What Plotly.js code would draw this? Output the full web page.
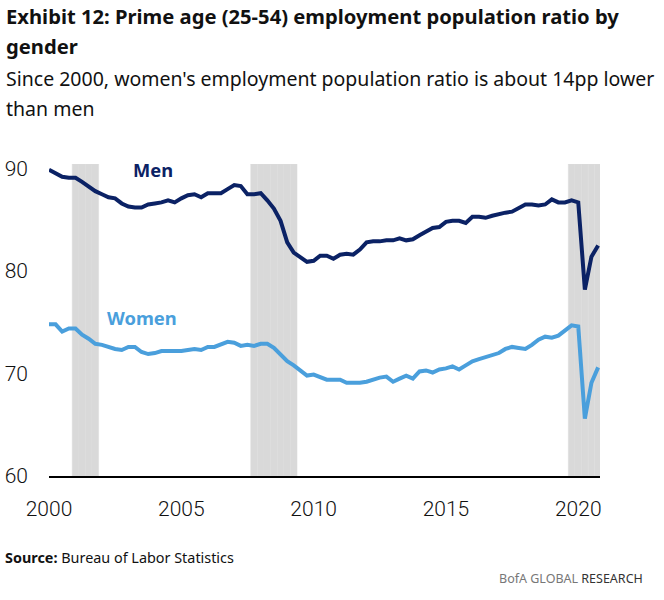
<!DOCTYPE html>
<html>
<head>
<meta charset="utf-8">
<script src="https://cdn.plot.ly/plotly-3.0.1.min.js"></script>
<style>
html,body{margin:0;padding:0;background:#fff;}
#chart{width:664px;height:600px;}
#chart .annotation text{font-stretch:condensed;}
</style>
</head>
<body>
<div id="chart"></div>
<script>
// ---- Data (quarterly, 2000Q1 - 2020Q4) ----
var startYear = 2000;
var men = [89.9,89.6,89.2,89.1, 89.1,88.7,88.2,87.8, 87.5,87.2,87.1,86.6, 86.3,86.2,86.2,86.5,
           86.6,86.7,86.9,86.7, 87.1,87.4,87.5,87.2, 87.6,87.6,87.6,88.0, 88.4,88.3,87.5,87.5,
           87.6,86.9,86.1,84.9, 82.8,81.8,81.3,80.9, 81.0,81.5,81.5,81.2, 81.6,81.7,81.6,82.1,
           82.8,82.9,82.9,83.0, 83.0,83.2,83.0,83.1, 83.5,83.8,84.2,84.3, 84.8,84.9,84.9,84.7,
           85.3,85.3,85.2,85.4, 85.6,85.7,85.8,86.1, 86.5,86.5,86.4,86.5, 87.0,86.7,86.7,86.9,
           86.7,78.2,81.4,82.5];
var women = [74.8,74.8,74.1,74.4, 74.4,73.8,73.4,72.9, 72.8,72.6,72.4,72.3, 72.6,72.6,72.1,71.9,
             72.0,72.2,72.2,72.2, 72.2,72.3,72.4,72.3, 72.6,72.6,72.9,73.1, 73.0,72.7,72.8,72.7,
             72.9,72.9,72.5,71.9, 71.2,70.8,70.3,69.8, 69.9,69.7,69.4,69.4, 69.4,69.1,69.1,69.1,
             69.2,69.4,69.6,69.7, 69.2,69.5,69.8,69.5, 70.2,70.3,70.1,70.4, 70.5,70.7,70.4,70.8,
             71.2,71.4,71.6,71.8, 72.0,72.4,72.6,72.5, 72.4,72.8,73.3,73.6, 73.5,73.7,74.2,74.7,
             74.6,65.6,69.1,70.6];
var recessionQuarters = ["2001-01-01","2001-04-01","2001-07-01","2001-10-01",
  "2007-10-01","2008-01-01","2008-04-01","2008-07-01","2008-10-01","2009-01-01","2009-04-01",
  "2019-10-01","2020-01-01","2020-04-01","2020-07-01","2020-10-01"];
var recessionFlag = [1,1,1,1, 1,1,1,1,1,1,1, 1,1,1,1,1];
var yTicks = [60,70,80,90];
var xTickYears = ["2000","2005","2010","2015","2020"];

var months = ["01","04","07","10"];
var dates = [];
for (var i = 0; i < men.length; i++) {
  dates.push((startYear + Math.floor(i/4)) + "-" + months[i%4] + "-01");
}

var NAVY = "#0B2265", LIGHT = "#4A9FDC";
var cond = "'Noto Sans','Open Sans','DejaVu Sans',sans-serif";
var tickFont = "Roboto, 'Liberation Sans', sans-serif";

var quarterMs = 91.31 * 86400000;
var traces = [
  {type:"bar", x:recessionQuarters, y:recessionFlag, width:recessionQuarters.map(function(){return quarterMs;}),
   yaxis:"y", marker:{color:"#D9D9D9", line:{color:"#DDDDDD", width:0.5}}, hoverinfo:"skip", showlegend:false},
  {type:"scatter", mode:"lines", x:dates, y:men, yaxis:"y2", name:"Men", line:{color:NAVY, width:4}, showlegend:false},
  {type:"scatter", mode:"lines", x:dates, y:women, yaxis:"y2", name:"Women", line:{color:LIGHT, width:4}, showlegend:false}
];

var L = 49, T = 164, W = 551, H = 312;
function px(x){ return (x - L) / W; }
function py(y){ return (T + H - y) / H; }

// target widths (px) used to fit text sizes to the reference layout
var ann = [
  {x:4,   y:16,  a:"left",   text:"<b>Exhibit 12: Prime age (25-54) employment population ratio by</b>", size:22, color:"#111", fit:615},
  {x:4,   y:46,  a:"left",   text:"<b>gender</b>", size:22, color:"#111", same:0},
  {x:4,   y:78,  a:"left",   text:"Since 2000, women's employment population ratio is about 14pp lower", size:23, color:"#111", fit:650},
  {x:4,   y:109, a:"left",   text:"than men", size:23, color:"#111", same:2},
  {x:153, y:169, a:"center", text:"<b>Men</b>", size:21, color:NAVY, fit:40},
  {x:142, y:317, a:"center", text:"<b>Women</b>", size:21, color:LIGHT, fit:70},
  {x:3,   y:557, a:"left",   text:"<b>Source:</b> Bureau of Labor Statistics", size:16, color:"#111", fit:229},
  {x:645, y:578, a:"right",  text:"<span style='color:#777'>BofA GLOBAL</span> <span style='color:#333'>RESEARCH</span>", size:12.5, color:"#555"}
];

var layout = {
  width:664, height:600,
  margin:{l:L, r:664-L-W, t:T, b:600-T-H, pad:0},
  paper_bgcolor:"#fff", plot_bgcolor:"rgba(0,0,0,0)",
  showlegend:false, bargap:0,
  xaxis:{type:"date", range:["2000-01-01","2020-10-27"],
         tickvals:xTickYears.map(function(y){return y+"-01-01";}), ticktext:xTickYears,
         showgrid:false, zeroline:false, showline:true, linecolor:"#000", linewidth:2,
         ticks:"", ticklabelstandoff:13,
         tickfont:{family:tickFont, size:21, color:"#111", weight:300}},
  yaxis:{range:[0,1], visible:false, fixedrange:true},
  yaxis2:{range:[60,90.45], overlaying:"y", side:"left", tickvals:yTicks, showgrid:false, zeroline:false, showline:false,
         ticks:"", ticklabelstandoff:20,
         tickfont:{family:tickFont, size:21, color:"#111", weight:300}},
  annotations:ann.map(function(a){
    return {xref:"paper", yref:"paper", x:px(a.x), y:py(a.y), xanchor:a.a, yanchor:"middle", showarrow:false,
            text:a.text, font:{family:cond, size:a.size, color:a.color}};
  })
};

Plotly.newPlot("chart", traces, layout, {displayModeBar:false, staticPlot:true}).then(function(gd){
  var nodes = gd.querySelectorAll(".annotation-text");
  var sizes = ann.map(function(a){ return a.size; });
  var upd = {};
  ann.forEach(function(a, k){
    if (a.fit && nodes[k]) {
      var w = nodes[k].getBBox().width;
      if (w > 0) sizes[k] = a.size * a.fit / w;
    }
  });
  ann.forEach(function(a, k){
    if (a.same !== undefined) sizes[k] = sizes[a.same] * a.size / ann[a.same].size;
    upd["annotations[" + k + "].font.size"] = Math.round(sizes[k] * 10) / 10;
  });
  return Plotly.relayout(gd, upd);
});
</script>
</body>
</html>
